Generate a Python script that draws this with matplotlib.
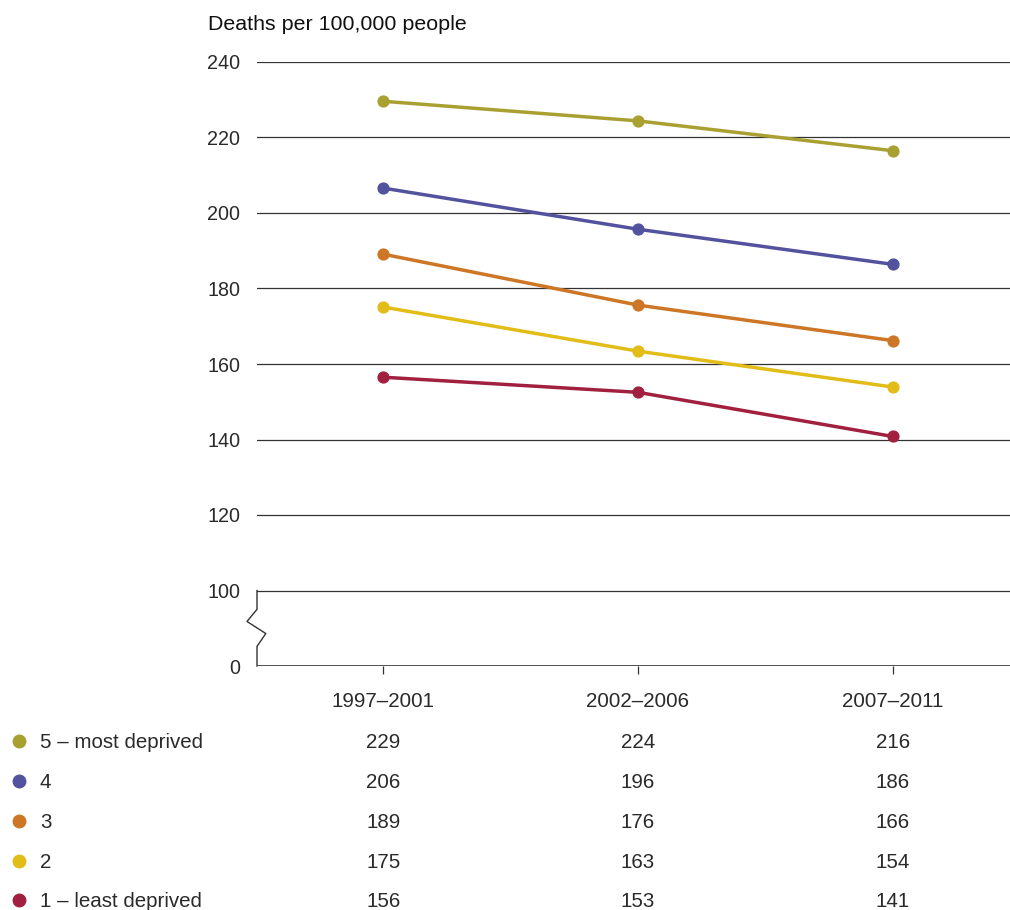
import matplotlib
matplotlib.use("Agg")
import matplotlib.pyplot as plt
from matplotlib.lines import Line2D
from matplotlib import transforms

plt.rcParams['font.family'] = ['Liberation Sans', 'DejaVu Sans']

# data
periods = ["1997\u20132001", "2002\u20132006", "2007\u20132011"]
groups = ["5 \u2013 most deprived", "4", "3", "2", "1 \u2013 least deprived"]
colors = ["#A9A032", "#53529E", "#CD7625", "#E2BC17", "#A1203F"]
q5 = [229.6, 224.4, 216.5]
q4 = [206.6, 195.7, 186.4]
q3 = [189.1, 175.6, 166.2]
q2 = [175.1, 163.4, 153.9]
q1 = [156.5, 152.5, 140.8]
series = [q5, q4, q3, q2, q1]
table_vals = [[229, 224, 216], [206, 196, 186], [189, 176, 166], [175, 163, 154], [156, 153, 141]]
grid_vals = [100, 120, 140, 160, 180, 200, 220, 240]

W, H = 1010, 910
FS = 14.8
TXT = "#2a2a2a"
fig = plt.figure(figsize=(W / 100, H / 100), dpi=100)
ax = fig.add_axes([257 / W, (H - 666) / H, (W - 257) / W, (666 - 62) / H])

ax.set_xlim(-0.495, 2.46)
ax.set_ylim(80, 240)  # 0 is drawn at 80 (broken axis)
for s in ax.spines.values():
    s.set_visible(False)

for g in grid_vals:
    ax.axhline(g, color="#333333", lw=0.9, zorder=1)
ax.axhline(80, color="#333333", lw=1.2, zorder=1)

# broken left axis between 0 and 100
bx = [0, 0, -0.0133, 0.0117, 0, 0]
by = [100, 95, 91.8, 88.6, 85.2, 80]
ax.plot(bx, by, color="#333333", lw=1.0,
        transform=transforms.blended_transform_factory(ax.transAxes, ax.transData),
        clip_on=False)

xs = list(range(len(periods)))
for vals, c in zip(series, colors):
    ax.plot(xs, vals, color=c, lw=2.5, marker="o", ms=7.8, zorder=3)

ax.set_yticks([80] + grid_vals)
ax.set_yticklabels(["0"] + [str(g) for g in grid_vals])
ax.tick_params(axis="y", length=0, pad=12, labelsize=14.2, labelcolor=TXT)
ax.set_xticks(xs)
ax.set_xticklabels(periods)
ax.tick_params(axis="x", length=6, width=0.9, color="#333333", direction="out",
               pad=13, labelsize=FS, labelcolor=TXT)

fig.text(208 / W, 1 - 25 / H, "Deaths per 100,000 people", fontsize=15.4,
         color="#111111", va="center", ha="left")

# table beneath the chart
row_y = [741, 781, 821, 861, 900]
blend = transforms.blended_transform_factory(ax.transData, fig.transFigure)
for name, c, vals, y in zip(groups, colors, table_vals, row_y):
    yf = 1 - y / H
    yt = 1 - (y + 1.5) / H
    fig.add_artist(Line2D([19 / W], [yf], marker="o", ms=9, color=c,
                          transform=fig.transFigure, lw=0))
    fig.text(40 / W, yt, name, fontsize=FS, color=TXT, va="center", ha="left")
    for xi, v in zip(xs, vals):
        ax.text(xi, yt, str(v), fontsize=FS, color=TXT, va="center", ha="center",
                transform=blend)

fig.savefig("out.png", dpi=100)
